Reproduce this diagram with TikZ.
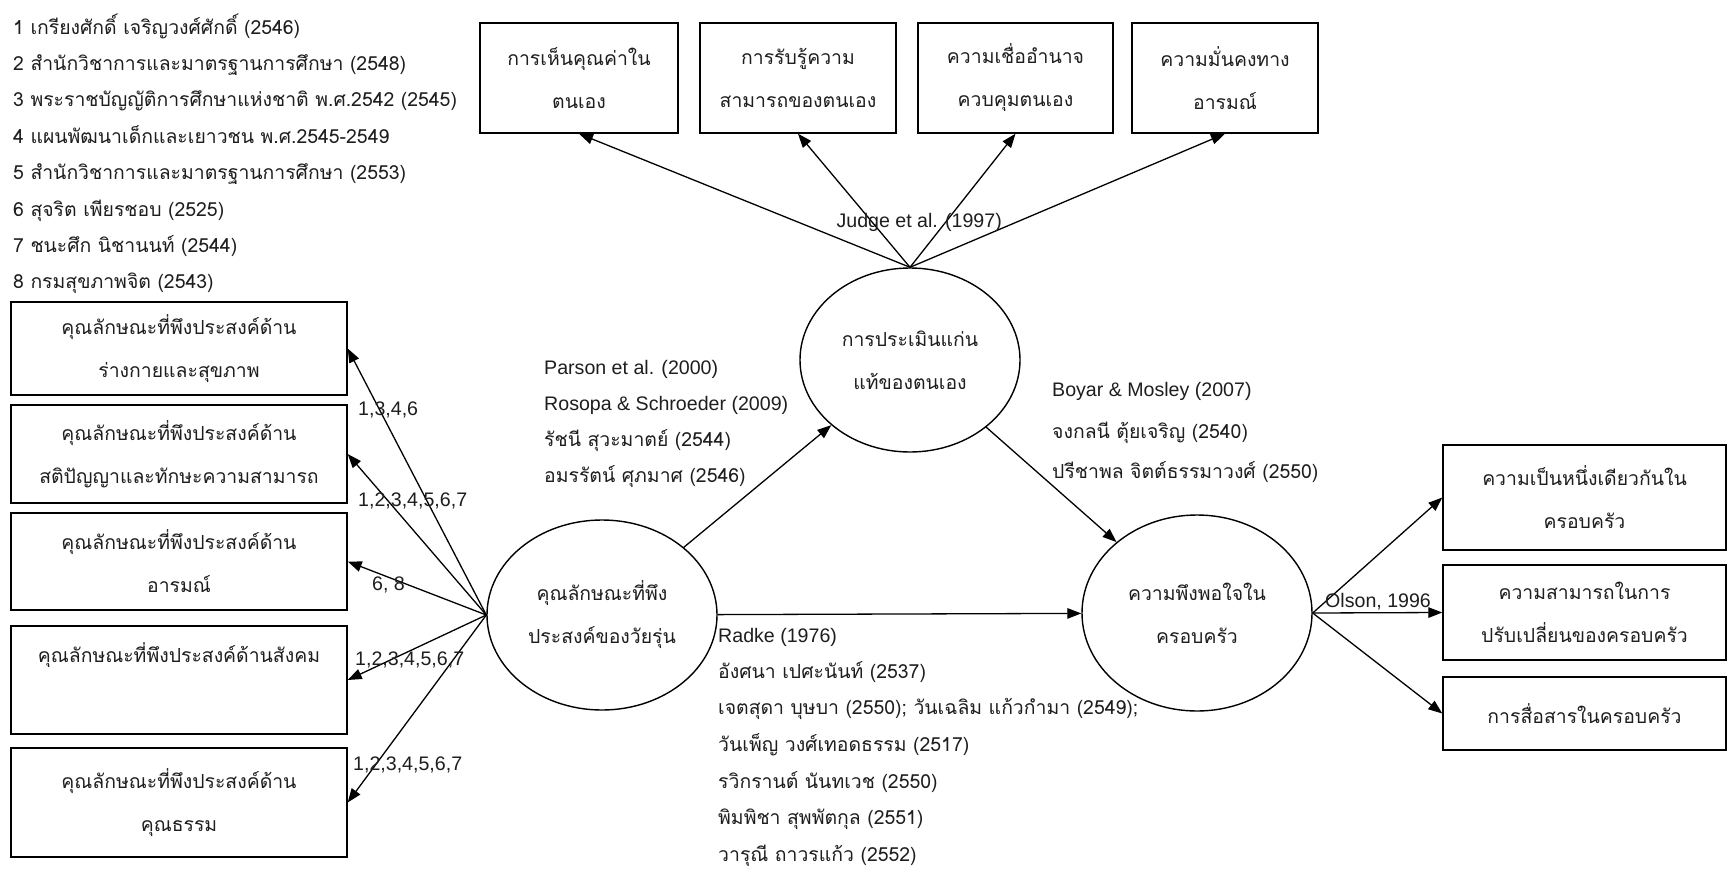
\documentclass[tikz,border=0pt]{standalone}
\usepackage{fontspec}
\setmainfont{Liberation Sans}
\newfontfamily\thai[Script=Thai]{Loma}
\usetikzlibrary{arrows.meta,shapes.geometric}
\definecolor{ink}{RGB}{30,30,30}
\begin{document}
\begin{tikzpicture}[x=1pt,y=-1pt,
  arr/.style={draw=black, line width=1.3pt, -{Triangle[length=14pt,width=10.5pt]}},
  box/.style={draw=black, line width=1.4pt, rectangle, inner sep=0pt, align=center, text=ink,
    font=\thai\fontsize{19.4}{43}\selectfont},
  oval/.style={draw=black, line width=1.4pt, ellipse, inner sep=0pt, align=center, text=ink,
    font=\thai\fontsize{19.4}{43}\selectfont},
  th/.style={anchor=base west, inner sep=0pt, text=ink, font=\thai\fontsize{19.4}{22}\selectfont},
  la/.style={anchor=base west, inner sep=0pt, text=ink, font=\fontsize{19.6}{22}\selectfont},
]
\fill[white] (0,0) rectangle (1729,870);
\useasboundingbox (0,0) rectangle (1729,870);

% legend
\foreach \t [count=\i] in {%
  {1 เกรียงศักดิ์ เจริญวงศ์ศักดิ์ (2546)},
  {2 สำนักวิชาการและมาตรฐานการศึกษา (2548)},
  {3 พระราชบัญญัติการศึกษาแห่งชาติ พ.ศ.2542 (2545)},
  {4 แผนพัฒนาเด็กและเยาวชน พ.ศ.2545-2549},
  {5 สำนักวิชาการและมาตรฐานการศึกษา (2553)},
  {6 สุจริต เพียรชอบ (2525)},
  {7 ชนะศึก นิชานนท์ (2544)},
  {8 กรมสุขภาพจิต (2543)}}
  \node[th] (leg\i) at (13,{34+(\i-1)*36.4}) {\t};

% left boxes
\node[box, minimum width=336pt, minimum height=93pt]  (L1) at (179,348.5) {คุณลักษณะที่พึงประสงค์ด้าน\\ร่างกายและสุขภาพ};
\node[box, minimum width=336pt, minimum height=98pt]  (L2) at (179,454)   {คุณลักษณะที่พึงประสงค์ด้าน\\สติปัญญาและทักษะความสามารถ};
\node[box, minimum width=336pt, minimum height=97pt]  (L3) at (179,561.5) {คุณลักษณะที่พึงประสงค์ด้าน\\อารมณ์};
\node[box, minimum width=336pt, minimum height=108pt] (L4) at (179,680)   {คุณลักษณะที่พึงประสงค์ด้านสังคม\\\strut};
\node[box, minimum width=336pt, minimum height=109pt] (L5) at (179,802.5) {คุณลักษณะที่พึงประสงค์ด้าน\\คุณธรรม};

% top boxes
\node[box, minimum width=198pt, minimum height=110pt] (T1) at (579,78)    {การเห็นคุณค่าใน\\ตนเอง};
\node[box, minimum width=196pt, minimum height=110pt] (T2) at (798,78)    {การรับรู้ความ\\สามารถของตนเอง};
\node[box, minimum width=195pt, minimum height=110pt] (T3) at (1015.5,78) {ความเชื่ออำนาจ\\ควบคุมตนเอง};
\node[box, minimum width=186pt, minimum height=110pt] (T4) at (1225,78)   {ความมั่นคงทาง\\อารมณ์};

% right boxes
\node[box, minimum width=283pt, minimum height=105pt] (R1) at (1584.5,497.5) {ความเป็นหนึ่งเดียวกันใน\\ครอบครัว};
\node[box, minimum width=283pt, minimum height=95pt]  (R2) at (1584.5,612.5) {ความสามารถในการ\\ปรับเปลี่ยนของครอบครัว};
\node[box, minimum width=283pt, minimum height=73pt]  (R3) at (1584.5,713.5) {การสื่อสารในครอบครัว};

% ellipses
\node[oval, minimum width=230pt, minimum height=190pt] (E1) at (602,615)  {คุณลักษณะที่พึง\\ประสงค์ของวัยรุ่น};
\node[oval, minimum width=220pt, minimum height=184pt] (E2) at (910,360)  {การประเมินแก่น\\แท้ของตนเอง};
\node[oval, minimum width=230pt, minimum height=196pt] (E3) at (1197,613) {ความพึงพอใจใน\\ครอบครัว};

% connectors
\foreach \b in {L1,L2,L3,L4,L5} \draw[arr] (E1.west) -- (\b.east);
\foreach \b in {T1,T2,T3,T4} \draw[arr] (E2.north) -- (\b.south);
\foreach \b in {R1,R2,R3} \draw[arr] (E3.east) -- (\b.west);
\draw[arr] (E1) -- (E2);
\draw[arr] (E2) -- (E3);
\draw[arr] (E1) -- (E3);

% edge labels
\node[la] (n1) at (358,415) {1,3,4,6};
\node[la] (n2) at (358,506) {1,2,3,4,5,6,7};
\node[la] (n3) at (372,590) {6, 8};
\node[la] (n4) at (355,665) {1,2,3,4,5,6,7};
\node[la] (n5) at (353,770) {1,2,3,4,5,6,7};
\node[la, anchor=base east] (judge) at (1002,227) {Judge et al. (1997)};
\node[la] (olson) at (1325,607) {Olson, 1996};

% Parson block
\node[la] (p1) at (544,374) {Parson et al. (2000)};
\node[la] (p2) at (544,410) {Rosopa \& Schroeder (2009)};
\node[th] (p3) at (544,446) {รัชนี สุวะมาตย์ (2544)};
\node[th] (p4) at (544,482) {อมรรัตน์ ศุภมาศ (2546)};

% Boyar block
\node[la] (b1) at (1052,396) {Boyar \& Mosley (2007)};
\node[th] (b2) at (1052,438) {จงกลนี ตุ้ยเจริญ (2540)};
\node[th] (b3) at (1052,478) {ปรีชาพล จิตต์ธรรมาวงศ์ (2550)};

% Radke block
\node[la] (r1) at (718,642) {Radke (1976)};
\node[th] (r2) at (718,678) {อังศนา เปศะนันท์ (2537)};
\node[th] (r3) at (718,714) {เจตสุดา บุษบา (2550); วันเฉลิม แก้วกำมา (2549);};
\node[th] (r4) at (718,751) {วันเพ็ญ วงศ์เทอดธรรม (2517)};
\node[th] (r5) at (718,788) {รวิกรานต์ นันทเวช (2550)};
\node[th] (r6) at (718,824) {พิมพิชา สุพพัตกุล (2551)};
\node[th] (r7) at (718,861) {วารุณี ถาวรแก้ว (2552)};
\end{tikzpicture}
\end{document}
